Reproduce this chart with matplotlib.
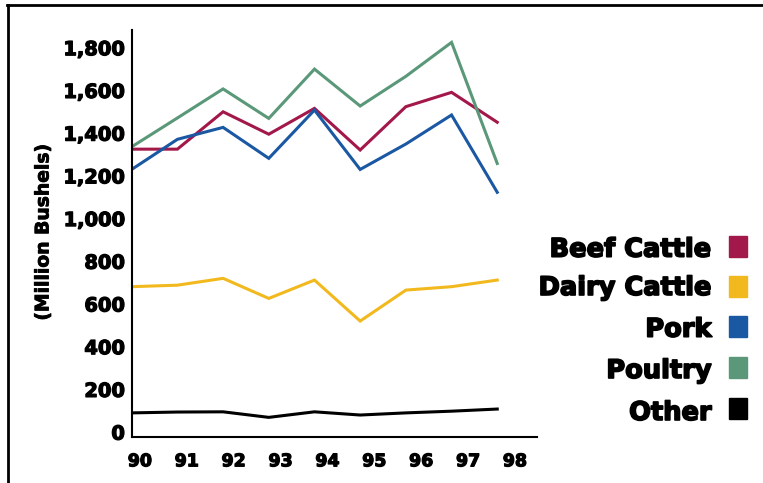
import matplotlib.pyplot as plt
import matplotlib.patches as mpatches
import matplotlib.patheffects as pe
from matplotlib.lines import Line2D
import numpy as np

# Feed use by livestock class, 1990-1998
years = ["90", "91", "92", "93", "94", "95", "96", "97", "98"]
beef = [1325, 1325, 1500, 1395, 1516, 1321, 1524, 1591, 1451]
dairy = [681, 688, 720, 626, 712, 520, 665, 681, 712]
pork = [1230, 1371, 1427, 1282, 1508, 1230, 1349, 1485, 1123]
poultry = [1336, 1471, 1607, 1469, 1700, 1527, 1666, 1825, 1258]
other = [90, 94, 95, 69, 95, 80, 90, 98, 108]

names = ["Beef Cattle", "Dairy Cattle", "Pork", "Poultry", "Other"]
series = [beef, dairy, pork, poultry, other]
colors = ["#A3184A", "#F2B91F", "#1B58A3", "#5A9879", "#000000"]

# heavier strokes so the bold face reads like a black weight
heavy = [pe.withStroke(linewidth=0.9, foreground="black")]

fig = plt.figure(figsize=(7.63, 4.83), dpi=100)
ax = fig.add_axes([0.1726, 0.0952, 0.5312, 0.8427])

x = np.arange(len(years))
for vals, col in zip(series, colors):
    ax.plot(x, vals, color=col, linewidth=2.2, solid_joinstyle="miter")

ax.set_xlim(0, 8.87)
ax.set_ylim(-23, 1883)

# year labels sit a little right of the data points
ax.set_xticks(x * 1.026 + 0.18)
ax.set_xticklabels(years, fontsize=12.5, fontweight="bold")
ax.set_yticks(np.arange(0, 1801, 200))
ax.set_yticklabels([f"{v:,}" for v in range(0, 1801, 200)],
                   fontsize=14, fontweight="bold")
for lbl in ax.get_xticklabels() + ax.get_yticklabels():
    lbl.set_path_effects(heavy)
ax.tick_params(length=0)
ax.tick_params(axis="x", pad=11)
ax.tick_params(axis="y", pad=5)

for s in ["top", "right"]:
    ax.spines[s].set_visible(False)
for s in ["left", "bottom"]:
    ax.spines[s].set_linewidth(1.5)

fig.text(43 / 763, 1 - 232 / 483, "(Million Bushels)", rotation=90,
         fontsize=13.5, fontweight="bold", ha="center", va="center",
         path_effects=[pe.withStroke(linewidth=0.6, foreground="black")])

# LEGEND
text_base = [256.7, 295, 336.7, 378, 420]
patch_mid = [246, 286, 326, 367.5, 408.5]
for name, col, yb, ym in zip(names, colors, text_base, patch_mid):
    fig.text(711.7 / 763, 1 - yb / 483, name, fontsize=18.5,
             fontweight="bold", ha="right", va="baseline",
             path_effects=[pe.withStroke(linewidth=1.2, foreground="black")])
    fig.patches.append(mpatches.Rectangle(
        (728.5 / 763, 1 - (ym + 10.5) / 483), 18.5 / 763, 21 / 483,
        color=col, transform=fig.transFigure, figure=fig))

# FRAME
fig.add_artist(Line2D([7 / 763, 1], [1 - 5 / 483] * 2, color="black",
                      linewidth=2, transform=fig.transFigure))
fig.add_artist(Line2D([8 / 763] * 2, [0, 1 - 5 / 483], color="black",
                      linewidth=2, transform=fig.transFigure))

fig.savefig("out.png", dpi=100)
